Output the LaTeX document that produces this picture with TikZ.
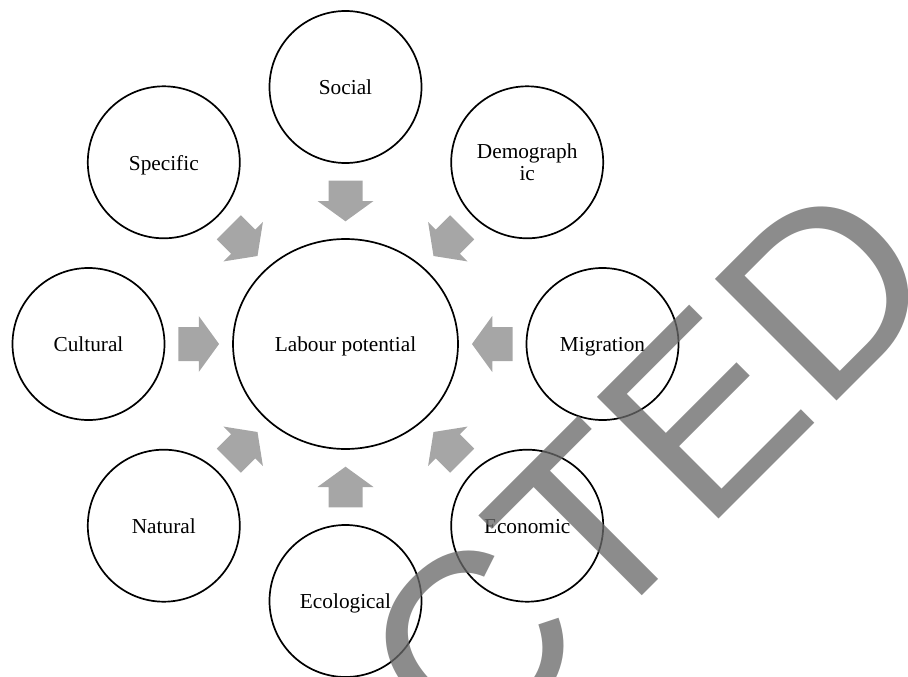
\documentclass[tikz,border=0pt]{standalone}
\usepackage{fontspec}
\setmainfont{Liberation Serif}
\newfontfamily\wmfont{Liberation Sans}
\usetikzlibrary{shapes.geometric,calc}
\definecolor{arrowgray}{RGB}{166,166,166}
\definecolor{wmgray}{RGB}{105,105,105}
\begin{document}
\begin{tikzpicture}[x=1pt,y=1pt,
  factor/.style={circle, draw=black, line width=1.7pt, minimum size=152pt, inner sep=0pt,
    font=\fontsize{21.3}{22}\selectfont, align=center},
  oneline/.style={text height=15.5pt, text depth=0pt},
  core/.style={ellipse, draw=black, line width=1.7pt, minimum width=225pt, minimum height=210pt,
    inner sep=0pt, font=\fontsize{21.3}{22}\selectfont, text height=15.5pt, text depth=0pt},
  blockarrow/.style={fill=arrowgray},
  watermark/.style={font=\wmfont\fontsize{250}{250}\selectfont, text=wmgray, text opacity=0.77,
    inner sep=0pt, anchor=base east, rotate=45}]
\useasboundingbox (0,0) rectangle (908,-677);
\node[core] (lp) at (345.5,-344) {Labour potential};
\node[factor,oneline] (soc)  at (345.5,-87)    {Social};
\node[factor]         (dem)  at (527.2,-162.3) {Demograph\\ic};
\node[factor,oneline] (mig)  at (602.5,-344)   {Migration};
\node[factor,oneline] (eco)  at (527.2,-525.7) {Economic};
\node[factor,oneline] (ecol) at (345.5,-601)   {Ecological};
\node[factor,oneline] (nat)  at (163.8,-525.7) {Natural};
\node[factor,oneline] (cul)  at (88.5,-344)    {Cultural};
\node[factor,oneline] (spe)  at (163.8,-162.3) {Specific};
\foreach \s/\a/\b in {soc/90/270, dem/45/225, mig/0/180, eco/315/135, ecol/270/90, nat/225/45, cul/180/0, spe/135/315} {
  \coordinate (m) at ($(lp.\a)!0.5!(\s.\b)$);
  \fill[blockarrow, shift={(m)}, rotate=\a] (20.3,17) -- (0,17) -- (0,28) -- (-20.3,0) -- (0,-28) -- (0,-17) -- (20.3,-17) -- cycle;
}
\begin{scope}
\clip (0,0) rectangle (908,-677);
\node[watermark] (wm) at (950.3,-287.7) {RETRACTED};
\end{scope}
\end{tikzpicture}
\end{document}
